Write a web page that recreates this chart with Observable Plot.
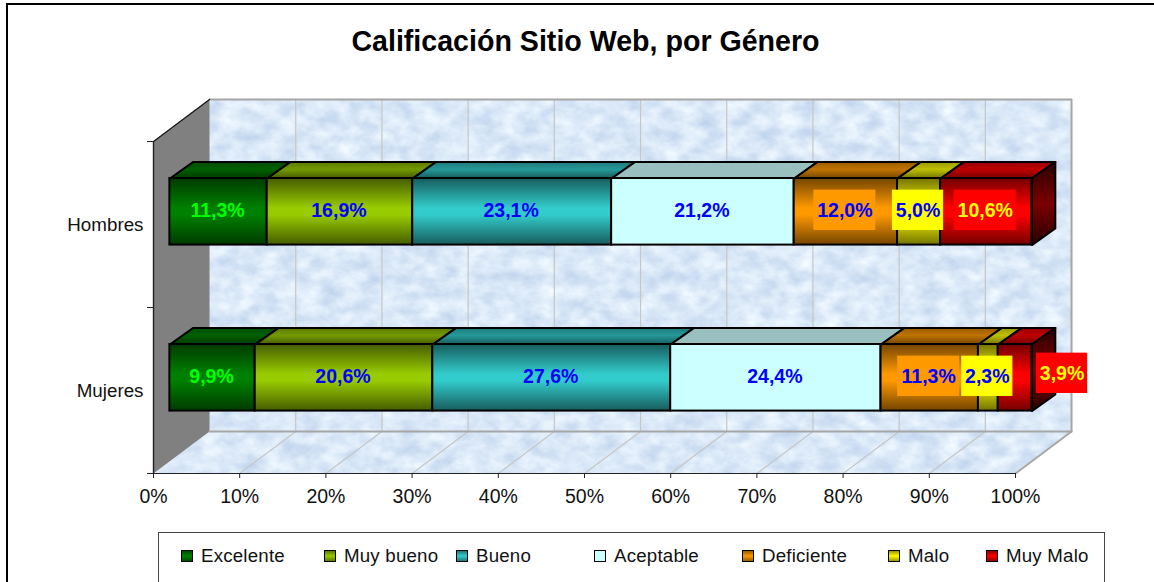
<!DOCTYPE html>
<html lang="es">
<head>
<meta charset="utf-8">
<script src="https://cdn.jsdelivr.net/npm/d3@7"></script>
<script src="https://cdn.jsdelivr.net/npm/@observablehq/plot@0.6"></script>
<style>
  html, body { margin: 0; padding: 0; background: #fff; }
  #wrap { position: relative; width: 1154px; height: 582px; overflow: hidden; font-family: "Liberation Sans", Arial, sans-serif; }
  #frame { position: absolute; left: 6px; top: 3px; width: 1200px; height: 640px; border: 2.4px solid #000; box-sizing: border-box; pointer-events: none; }
  #title { position: absolute; left: 6px; top: 21px; width: 1159px; text-align: center; margin: 0; font-size: 28.6px; line-height: 40px; font-weight: bold; color: #000; }
  #chart { position: absolute; left: 0; top: 0; }
  #legend { position: absolute; left: 158px; top: 532px; width: 947px; height: 70px; box-sizing: border-box; border: 1.4px solid #444; background: #fff; }
  .item { position: absolute; top: 8px; display: flex; align-items: center; font-size: 18.7px; letter-spacing: 0.2px; color: #111; line-height: 30px; white-space: nowrap; }
  .swatch { width: 12px; height: 12px; box-sizing: border-box; border: 1.5px solid #000; margin-right: 8px; }
</style>
</head>
<body>
<div id="wrap">
  <div id="chart"></div>
  <div id="frame"></div>
  <h1 id="title">Calificación Sitio Web, por Género</h1>
  <div id="legend"></div>
</div>
<script>
// ---------- data ----------
const rows = ["Mujeres", "Hombres"];
const categories = ["Excelente", "Muy bueno", "Bueno", "Aceptable", "Deficiente", "Malo", "Muy Malo"];
const hombres = [11.3, 16.9, 23.1, 21.2, 12.0, 5.0, 10.6];
const mujeres = [9.9, 20.6, 27.6, 24.4, 11.3, 2.3, 3.9];
const xTicks = [0, 10, 20, 30, 40, 50, 60, 70, 80, 90, 100];
const colors = ["#008000", "#99cc00", "#33cccc", "#ccffff", "#ff9900", "#ffff00", "#ff0000"];
const labelColors = ["#00ff00", "#0000ff", "#0000ff", "#0000ff", "#0000ff", "#0000ff", "#ffff00"];
const labelBoxes = [null, null, null, null, "#ff9900", "#ffff00", "#ff0000"];
const legendLeft = [22, 165, 297, 435, 583, 729, 827];

// ---------- 3D projection, in data units ----------
const wall = {dx: 6.5, dy: 0.253};
const bar = {x0: 1.9, y0: 0.376, y1: 0.777, dx: 2.72, dy: 0.1};

const values = {Mujeres: mujeres, Hombres: hombres};
const segs = rows.flatMap((row, r) => {
  const total = d3.sum(values[row]);
  let sum = 0;
  return values[row].map((v, i) => {
    const w = v / total * 100;
    const s = {row, r, i, v, a: bar.x0 + sum, b: bar.x0 + sum + w, y0: r + bar.y0, y1: r + bar.y1};
    sum += w;
    return s;
  });
});

const poly = (id, fill, coords) => coords.map(([x, y]) => ({id, fill, x, y}));
const topFaces = segs.flatMap(s => poly(`t${s.r}${s.i}`, `url(#top${s.i})`, [
  [s.a, s.y1], [s.b, s.y1], [s.b + bar.dx, s.y1 + bar.dy], [s.a + bar.dx, s.y1 + bar.dy]
]));
const sideFaces = segs.filter(s => s.i === 6).flatMap(s => poly(`s${s.r}`, "url(#side)", [
  [s.b, s.y0], [s.b + bar.dx, s.y0 + bar.dy], [s.b + bar.dx, s.y1 + bar.dy], [s.b, s.y1]
]));

const labels = segs.map(s => {
  const outside = s.row === "Mujeres" && s.i === 6;
  const cx = (s.a + s.b) / 2 + (outside ? 5.45 : -0.12);
  const cy = s.r + (outside ? 0.6 : 0.582);
  const text = s.v.toFixed(1).replace(".", ",") + "%";
  const half = text.length > 4 ? 3.6 : 2.97;
  return {...s, cx, cy, text, half, fill: labelColors[s.i], box: labelBoxes[s.i]};
});

// ---------- definitions (gradients, marble texture) ----------
function shade(hex, k) {
  const c = d3.rgb(hex);
  return d3.rgb(c.r * k, c.g * k, c.b * k).formatHex();
}
function defsMark() {
  const defs = d3.create("svg:defs");
  const grad = (id, stops) => {
    const g = defs.append("linearGradient").attr("id", id).attr("x1", 0).attr("y1", 0).attr("x2", 0).attr("y2", 1);
    stops.forEach(([o, c]) => g.append("stop").attr("offset", o).attr("stop-color", c));
  };
  colors.forEach((c, i) => {
    if (i === 3) {
      grad(`front${i}`, [[0, c], [1, c]]);
      grad(`top${i}`, [[0, shade(c, 0.75)], [1, shade(c, 0.75)]]);
    } else {
      grad(`front${i}`, [[0, shade(c, 0.45)], [0.45, c], [0.55, c], [1, shade(c, 0.45)]]);
      grad(`top${i}`, [[0, shade(c, 0.6)], [0.45, shade(c, 0.75)], [1, shade(c, 0.45)]]);
    }
  });
  grad("side", [[0, "#2a0000"], [0.5, "#7a0000"], [1, "#2a0000"]]);
  const f = defs.append("filter").attr("id", "marble").attr("x", 0).attr("y", 0).attr("width", "100%").attr("height", "100%")
    .attr("color-interpolation-filters", "sRGB");
  f.append("feTurbulence").attr("type", "fractalNoise").attr("baseFrequency", "0.05 0.07").attr("numOctaves", 4).attr("seed", 7);
  f.append("feColorMatrix").attr("type", "matrix").attr("values",
    "0.26 0 0 0 0.725  0.2 0 0 0 0.81  0.1 0 0 0 0.92  0 0 0 0 1");
  f.append("feComposite").attr("in2", "SourceAlpha").attr("operator", "in");
  return defs.node();
}

// ---------- chart ----------
const wallFace = [{x1: wall.dx, x2: 100 + wall.dx, y1: wall.dy, y2: 2 + wall.dy}];
const floor = poly("floor", "#dde9f8", [[0, 0], [100, 0], [100 + wall.dx, wall.dy], [wall.dx, wall.dy]]);
const leftWall = poly("left", "#808080", [[0, 0], [wall.dx, wall.dy], [wall.dx, 2 + wall.dy], [0, 2]]);
const grid = xTicks.slice(1, -1).flatMap(t => poly(`g${t}`, "none", [[t, 0], [t + wall.dx, wall.dy], [t + wall.dx, 2 + wall.dy]]));
const wallEdge = poly("edge", "none", [[wall.dx, 2 + wall.dy], [100 + wall.dx, 2 + wall.dy], [100 + wall.dx, wall.dy], [wall.dx, wall.dy]]);
const floorEdge = poly("fedge", "none", [[100, 0], [100 + wall.dx, wall.dy]]);
const leftEdge = poly("ledge", "none", [[0, 2], [wall.dx, 2 + wall.dy]]);

const line = (pts, o) => Plot.line(pts, {x: "x", y: "y", z: "id", ...o});

const chart = Plot.plot({
  width: 1154,
  height: 582,
  marginLeft: 153,
  marginRight: 139,
  marginTop: 141,
  marginBottom: 109,
  style: {fontFamily: "'Liberation Sans', Arial, sans-serif", background: "transparent", color: "#111", overflow: "visible"},
  x: {domain: [0, 100]},
  y: {domain: [0, 2]},
  color: {type: "identity"},
  marks: [
    defsMark,
    Plot.rect(wallFace, {x1: "x1", x2: "x2", y1: "y1", y2: "y2", fill: "#dde9f8", imageFilter: "url(#marble)"}),
    line(floor, {fill: "#dde9f8", curve: "linear-closed", imageFilter: "url(#marble)"}),
    line(leftWall, {fill: "#808080", curve: "linear-closed"}),
    line(grid, {stroke: "#c6c6c6", strokeWidth: 1.2}),
    line(wallEdge, {stroke: "#a6a6a6", strokeWidth: 2}),
    line(floorEdge, {stroke: "#a6a6a6", strokeWidth: 2}),
    line(leftEdge, {stroke: "#111", strokeWidth: 1.2}),
    line(topFaces, {fill: "fill", stroke: "#000", strokeWidth: 2, curve: "linear-closed"}),
    line(sideFaces, {fill: "fill", stroke: "#000", strokeWidth: 2, curve: "linear-closed"}),
    Plot.rect(segs, {x1: "a", x2: "b", y1: "y0", y2: "y1", fill: s => `url(#front${s.i})`, stroke: "#000", strokeWidth: 2}),
    Plot.rect(labels.filter(d => d.box), {
      x1: d => d.cx - d.half, x2: d => d.cx + d.half,
      y1: d => d.cy - 0.118, y2: d => d.cy + 0.125, fill: "box"
    }),
    Plot.text(labels, {x: "cx", y: "cy", text: "text", fill: "fill", fontWeight: "bold", fontSize: 19.5}),
    Plot.ruleY([0], {stroke: "#222", strokeWidth: 1.2}),
    Plot.ruleX([0], {stroke: "#222", strokeWidth: 1.4}),
    Plot.axisX(xTicks, {tickFormat: d => d + "%", tickSize: 5, tickPadding: 11, fontSize: 19.5, label: null, stroke: "#222"}),
    Plot.axisY([0, 1, 2], {tickFormat: () => "", tickSize: 6, label: null, stroke: "#222"}),
    Plot.axisY([0.5, 1.5], {tickFormat: d => rows[Math.floor(d)], tickSize: 0, tickPadding: 10, fontSize: 18.8, label: null})
  ]
});
document.getElementById("chart").append(chart);

// ---------- legend ----------
const legend = d3.select("#legend");
categories.forEach((c, i) => {
  const item = legend.append("div").attr("class", "item").style("left", legendLeft[i] + "px");
  item.append("span").attr("class", "swatch")
    .style("background", i === 3 ? colors[i] : `linear-gradient(${shade(colors[i], 0.6)}, ${colors[i]} 50%, ${shade(colors[i], 0.6)})`);
  item.append("span").text(c);
});
</script>
</body>
</html>
